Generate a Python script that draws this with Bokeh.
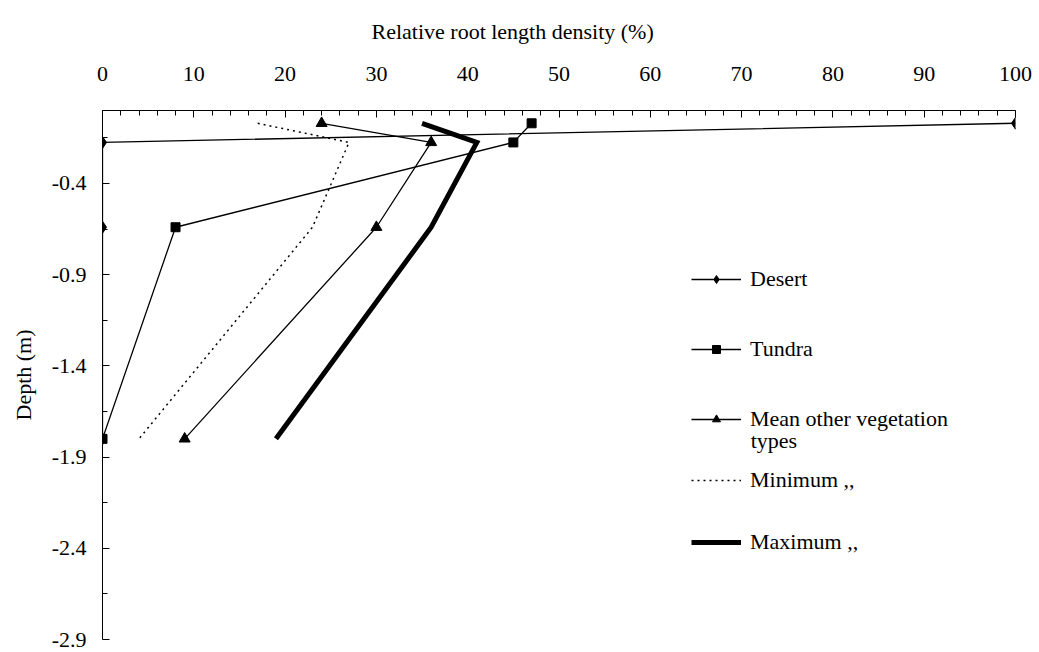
from bokeh.plotting import figure
from bokeh.models import FixedTicker, Range1d, Legend, LegendItem, Label
from bokeh.embed import file_html
from bokeh.resources import INLINE

# ---- data ----
depth = [-0.07, -0.175, -0.64, -1.8]
desert = [100, 0, 0, 0]
tundra = [47, 45, 8, 0]
mean_other = [24, 36, 30, 9]
minimum = [17, 27, 23, 4]
maximum = [35, 41, 36, 19]

x_ticks = list(range(0, 101, 10))
x_minor = list(range(0, 101, 2))
y_ticks = [-2.9, -2.4, -1.9, -1.4, -0.9, -0.4]
y_minor = [-2.65, -2.15, -1.65, -1.15, -0.65, -0.15]
y_labels = ["-2.9", "-2.4", "-1.9", "-1.4", "-0.9", "-0.4"]

FONT = "Liberation Serif"
FS = "22px"

p = figure(width=1039, height=652, output_backend="svg", toolbar_location=None,
           x_range=Range1d(0, 100), y_range=Range1d(-2.9, 0),
           x_axis_location="above", y_axis_location="left",
           min_border_left=102, min_border_right=24, min_border_top=110,
           min_border_bottom=13)
p.background_fill_color = "white"
p.border_fill_color = "white"
p.outline_line_color = None
p.xgrid.visible = False
p.ygrid.visible = False

# x-axis caption as the plot title (above the top axis)
p.title.text = "Relative root length density (%)"
p.title.align = "left"
p.title.offset = 269
p.title.vertical_align = "top"
p.title.standoff = 35
p.title.text_font = FONT
p.title.text_font_size = FS
p.title.text_font_style = "normal"
p.title.text_color = "black"

xa = p.xaxis[0]
xa.ticker = FixedTicker(ticks=x_ticks, minor_ticks=x_minor)
xa.major_tick_in = 7
xa.major_tick_out = 0
xa.minor_tick_in = 5
xa.minor_tick_out = 0
xa.major_label_standoff = 30
xa.major_label_text_font = FONT
xa.major_label_text_font_size = FS
xa.major_label_text_color = "black"
xa.axis_line_color = "black"
xa.major_tick_line_color = "black"
xa.minor_tick_line_color = "black"

ya = p.yaxis[0]
ya.ticker = FixedTicker(ticks=y_ticks, minor_ticks=y_minor)
ya.major_label_overrides = {t: s for t, s in zip(y_ticks, y_labels)}
ya.major_tick_in = 7
ya.major_tick_out = 0
ya.minor_tick_in = 5
ya.minor_tick_out = 0
ya.major_label_standoff = 16
ya.major_label_text_font = FONT
ya.major_label_text_font_size = FS
ya.major_label_text_color = "black"
ya.axis_label = "Depth (m)"
ya.axis_label_standoff = 13
ya.axis_label_text_font = FONT
ya.axis_label_text_font_size = FS
ya.axis_label_text_font_style = "normal"
ya.axis_label_text_color = "black"
ya.axis_line_color = "black"
ya.major_tick_line_color = "black"
ya.minor_tick_line_color = "black"

# ---- series ----
r_des_l = p.line(desert, depth, line_color="black", line_width=1.3)
r_des_m = p.scatter(desert, depth, marker="diamond", size=12, color="black")
r_tun_l = p.line(tundra, depth, line_color="black", line_width=1.3)
r_tun_m = p.scatter(tundra, depth, marker="square", size=9, color="black")
r_mean_l = p.line(mean_other, depth, line_color="black", line_width=1.3)
r_mean_m = p.scatter(mean_other, depth, marker="triangle", size=11, color="black")
r_min = p.line(minimum, depth, line_color="black", line_width=1.5, line_dash="2 4")
r_max = p.line(maximum, depth, line_color="black", line_width=5, line_join="miter")

leg_common = dict(orientation="vertical", glyph_width=50, glyph_height=20,
                  label_standoff=9, padding=0, margin=0,
                  border_line_color=None, background_fill_alpha=0,
                  label_text_font=FONT, label_text_font_size=FS,
                  label_text_color="black")

leg1 = Legend(items=[
    LegendItem(label="Desert", renderers=[r_des_l, r_des_m]),
    LegendItem(label="Tundra", renderers=[r_tun_l, r_tun_m]),
    LegendItem(label="Mean other vegetation", renderers=[r_mean_l, r_mean_m]),
], location=(589, 207), spacing=44, **leg_common)
leg2 = Legend(items=[
    LegendItem(label="Minimum ,,", renderers=[r_min]),
    LegendItem(label="Maximum ,,", renderers=[r_max]),
], location=(589, 84), spacing=36, **leg_common)
p.add_layout(leg1)
p.add_layout(leg2)

p.add_layout(Label(x=71.0, y=-1.81, text="types", text_font=FONT,
                   text_font_size=FS, text_color="black",
                   text_baseline="middle", text_align="left"))

open("out.html", "w").write(file_html(p, INLINE))
